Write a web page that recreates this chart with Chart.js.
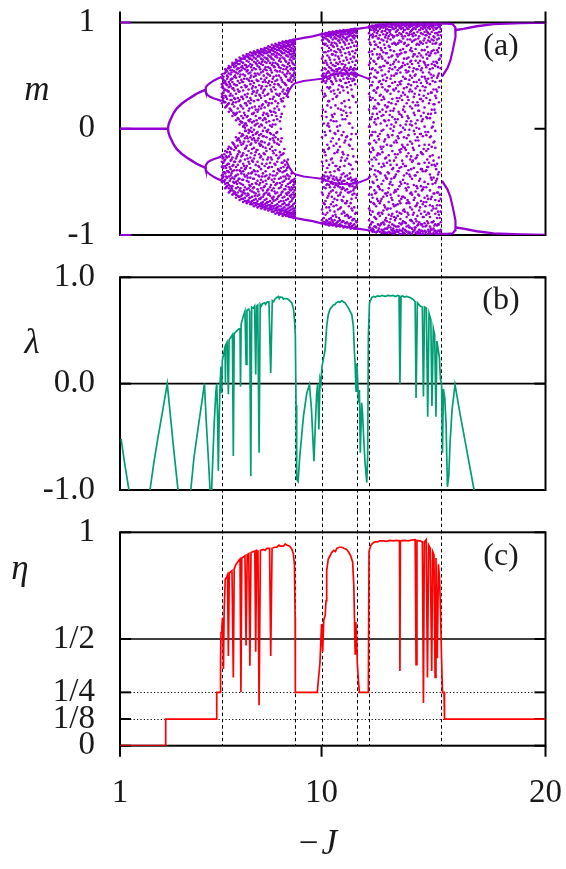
<!DOCTYPE html>
<html><head><meta charset="utf-8">
<script src="https://cdn.jsdelivr.net/npm/chart.js@4.4.1/dist/chart.umd.min.js"></script>
<style>
html,body{margin:0;padding:0;background:#fff;}
#wrap{position:relative;width:566px;height:869px;background:#fff;overflow:hidden;}
canvas{position:absolute;left:0;}
</style></head>
<body><div id="wrap">
<canvas id="ca" width="566" height="256" style="top:0px"></canvas>
<canvas id="cb" width="566" height="255" style="top:256px"></canvas>
<canvas id="cc" width="566" height="358" style="top:511px"></canvas>
</div>
<script>
// ---------------- DATA ----------------
const xTicks = [1, 10, 20];
const xTickLabels = ['1', '10', '20'];
const dashJ = [5.54, 8.83, 10.0, 11.6, 12.1, 15.35];

const mTicks = [-1, 0, 1];
const mTickLabels = ['-1', '0', '1'];
const lamTicks = [-1, 0, 1];
const lamTickLabels = ['-1.0', '0.0', '1.0'];
const etaTicks = [0, 0.125, 0.25, 0.5, 1];
const etaTickLabels = ['0', '1/8', '1/4', '1/2', '1'];
const lamSolidRef = [0];
const etaSolidRef = [0.5];
const etaDottedRef = [0.25, 0.125];

// panel (a): branches of the bifurcation diagram [-J, m]
const branchZero = [[1,0],[3.14,0]];
const branchUpper = [[3.14,0],[3.17,0.04],[3.22,0.07],[3.31,0.11],[3.4,0.15],[3.53,0.19],[3.75,0.235],[3.98,0.27],[4.2,0.30],[4.42,0.33],[4.62,0.35],[4.8,0.365]];
const branchLower = [[3.14,0],[3.17,-0.04],[3.22,-0.07],[3.31,-0.11],[3.4,-0.15],[3.53,-0.19],[3.75,-0.235],[3.98,-0.27],[4.2,-0.30],[4.42,-0.33],[4.62,-0.35],[4.8,-0.365]];
const loopUpA = [[4.8,0.365],[4.83,0.39],[4.9,0.41],[5.02,0.43],[5.2,0.455],[5.35,0.47],[5.54,0.49]];
const loopUpB = [[4.8,0.365],[4.83,0.345],[4.9,0.32],[5.02,0.30],[5.2,0.285],[5.35,0.275],[5.54,0.26]];
const loopDnA = [[4.8,-0.365],[4.83,-0.39],[4.9,-0.41],[5.02,-0.43],[5.2,-0.455],[5.35,-0.47],[5.54,-0.49]];
const loopDnB = [[4.8,-0.365],[4.83,-0.345],[4.9,-0.32],[5.02,-0.30],[5.2,-0.285],[5.35,-0.275],[5.54,-0.26]];
const outerUp = [[8.5,0.825],[8.83,0.84],[9.2,0.855],[9.6,0.87],[10,0.89],[10.5,0.905],[11,0.92],[11.6,0.94],[12.1,0.955]];
const outerDn = [[8.5,-0.825],[8.83,-0.84],[9.2,-0.855],[9.6,-0.87],[10,-0.89],[10.5,-0.905],[11,-0.92],[11.6,-0.94],[12.1,-0.955]];
const innerUp = [[8.42,0.3],[8.55,0.36],[8.7,0.41],[8.83,0.43],[9.2,0.45],[9.6,0.46],[10,0.47],[10.4,0.5],[10.8,0.52],[11.2,0.52],[11.6,0.51],[11.85,0.49],[12.1,0.47]];
const innerDn = [[8.42,-0.3],[8.55,-0.36],[8.7,-0.41],[8.83,-0.43],[9.2,-0.45],[9.6,-0.46],[10,-0.47],[10.4,-0.5],[10.8,-0.52],[11.2,-0.52],[11.6,-0.51],[11.85,-0.49],[12.1,-0.47]];
const loopTop = [[15.33,0.99],[15.6,0.99],[15.85,0.985],[15.97,0.955],[16.0,0.93],[15.96,0.865],[15.86,0.74],[15.75,0.64],[15.62,0.57],[15.5,0.53],[15.38,0.49]];
const loopBot = [[15.33,-0.99],[15.6,-0.99],[15.85,-0.985],[15.97,-0.955],[16.0,-0.93],[15.96,-0.865],[15.86,-0.74],[15.75,-0.64],[15.62,-0.57],[15.5,-0.53],[15.38,-0.49]];
const tailTop = [[16.0,0.93],[16.33,0.94],[16.93,0.965],[17.68,0.985],[18.9,0.995],[20,1.0]];
const tailBot = [[16.0,-0.93],[16.33,-0.94],[16.93,-0.965],[17.68,-0.985],[18.9,-0.995],[20,-1.0]];

// panel (a): chaotic cloud, one column of m values per -J value
const cloudJ = [5.62,5.55,5.78,5.70,5.94,5.86,6.10,6.02,6.26,6.18,6.42,6.34,6.58,6.50,6.74,6.66,6.90,6.82,7.06,6.98,7.22,7.14,7.38,7.30,7.54,7.46,7.70,7.62,7.86,7.78,8.02,7.94,8.18,8.10,8.34,8.26,8.50,8.42,8.66,8.58,8.80,8.74,
10.10,10.02,10.26,10.18,10.42,10.34,10.58,10.50,10.74,10.66,10.90,10.82,11.06,10.98,11.22,11.14,11.38,11.30,11.54,11.46,
12.20,12.12,12.36,12.28,12.52,12.44,12.68,12.60,12.84,12.76,13.00,12.92,13.16,13.08,13.32,13.24,13.48,13.40,13.64,13.56,13.80,13.72,13.96,13.88,14.12,14.04,14.28,14.20,14.44,14.36,14.60,14.52,14.76,14.68,14.92,14.84,15.08,15.00,15.24,15.16,15.32];
const cloudM = [
[0.49,0.46,0.43,0.38,0.34,0.29,0.26,-0.49,-0.45,-0.41,-0.37,-0.32,-0.27],
[0.51,0.48,0.42,0.39,0.33,0.30,0.24,-0.50,-0.47,-0.44,-0.36,-0.31,-0.25],
[0.54,0.50,0.47,0.41,0.36,0.28,0.22,-0.54,-0.51,-0.46,-0.40,-0.34,-0.27,-0.22],
[0.56,0.53,0.45,0.43,0.37,0.31,0.25,0.20,-0.56,-0.52,-0.48,-0.42,-0.35,-0.29,-0.21],
[0.58,0.55,0.51,0.46,0.40,0.33,0.27,0.18,-0.58,-0.54,-0.47,-0.44,-0.38,-0.30,-0.24,-0.18],
[0.59,0.57,0.52,0.44,0.39,0.35,0.24,0.16,-0.60,-0.56,-0.53,-0.45,-0.41,-0.33,-0.26,-0.17],
[0.61,0.58,0.54,0.49,0.42,0.36,0.29,0.21,0.14,-0.61,-0.59,-0.51,-0.47,-0.39,-0.31,-0.20,-0.15],
[0.62,0.60,0.55,0.47,0.44,0.38,0.31,0.23,0.12,-0.62,-0.58,-0.54,-0.46,-0.40,-0.35,-0.27,-0.13],
[0.64,0.61,0.57,0.52,0.45,0.37,0.29,0.19,0.10,-0.63,-0.60,-0.55,-0.49,-0.43,-0.34,-0.24,-0.16,-0.10],
[0.65,0.62,0.59,0.53,0.48,0.41,0.33,0.25,0.14,0.08,-0.65,-0.62,-0.56,-0.50,-0.44,-0.36,-0.28,-0.18,-0.08],
[0.66,0.63,0.58,0.55,0.46,0.39,0.30,0.21,0.12,0.06,-0.66,-0.63,-0.59,-0.52,-0.42,-0.37,-0.26,-0.15,-0.07],
[0.67,0.64,0.61,0.54,0.49,0.43,0.35,0.27,0.16,0.04,-0.67,-0.64,-0.58,-0.51,-0.47,-0.39,-0.31,-0.22,-0.11,-0.04],
[0.68,0.66,0.60,0.56,0.50,0.41,0.32,0.24,0.13,0.05,0.01,-0.68,-0.65,-0.61,-0.55,-0.45,-0.38,-0.29,-0.19,-0.09,-0.02],
[0.69,0.66,0.62,0.57,0.51,0.44,0.36,0.28,0.19,0.10,0.02,-0.69,-0.66,-0.60,-0.53,-0.48,-0.40,-0.33,-0.23,-0.14,-0.06],
[0.70,0.67,0.63,0.59,0.52,0.46,0.37,0.26,0.17,0.08,-0.01,-0.69,-0.67,-0.62,-0.56,-0.50,-0.42,-0.31,-0.21,-0.12,-0.04],
[0.70,0.68,0.64,0.58,0.54,0.47,0.40,0.30,0.22,0.11,0.03,-0.07,-0.70,-0.68,-0.63,-0.57,-0.49,-0.44,-0.35,-0.25,-0.16],
[0.71,0.69,0.65,0.60,0.55,0.45,0.38,0.33,0.20,0.14,0.06,-0.03,-0.71,-0.68,-0.64,-0.59,-0.52,-0.41,-0.30,-0.19,-0.10],
[0.72,0.69,0.66,0.61,0.53,0.48,0.42,0.29,0.24,0.09,-0.02,-0.08,-0.71,-0.69,-0.65,-0.58,-0.54,-0.46,-0.37,-0.27,-0.15],
[0.72,0.70,0.66,0.62,0.56,0.50,0.39,0.31,0.18,0.12,0.04,-0.05,-0.72,-0.70,-0.66,-0.61,-0.51,-0.43,-0.34,-0.22,-0.13],
[0.73,0.71,0.67,0.63,0.57,0.49,0.43,0.35,0.26,0.15,0.07,-0.01,-0.73,-0.70,-0.67,-0.60,-0.55,-0.47,-0.39,-0.28,-0.18,-0.09],
[0.73,0.71,0.68,0.62,0.58,0.51,0.41,0.32,0.21,0.10,0.02,-0.06,-0.73,-0.71,-0.66,-0.62,-0.53,-0.45,-0.36,-0.24,-0.14],
[0.74,0.72,0.68,0.64,0.59,0.52,0.45,0.36,0.27,0.16,0.05,-0.03,-0.74,-0.71,-0.68,-0.63,-0.57,-0.49,-0.40,-0.31,-0.20,-0.11],
[0.745,0.72,0.69,0.65,0.60,0.54,0.44,0.34,0.23,0.13,0.08,-0.02,-0.74,-0.72,-0.69,-0.64,-0.58,-0.50,-0.42,-0.29,-0.17,-0.07],
[0.75,0.73,0.70,0.66,0.61,0.53,0.47,0.38,0.29,0.19,0.04,-0.05,-0.75,-0.73,-0.70,-0.65,-0.56,-0.48,-0.38,-0.26,-0.15,-0.12],
[0.76,0.73,0.71,0.66,0.62,0.55,0.48,0.40,0.25,0.14,0.06,-0.08,-0.75,-0.73,-0.70,-0.66,-0.60,-0.52,-0.44,-0.33,-0.21,-0.02],
[0.76,0.74,0.71,0.67,0.63,0.56,0.46,0.37,0.31,0.20,0.10,0.01,-0.76,-0.74,-0.71,-0.67,-0.61,-0.54,-0.45,-0.35,-0.24,-0.13],
[0.77,0.74,0.72,0.68,0.62,0.57,0.50,0.41,0.28,0.17,0.03,-0.04,-0.76,-0.74,-0.72,-0.68,-0.63,-0.55,-0.43,-0.32,-0.19,-0.10],
[0.775,0.75,0.72,0.69,0.64,0.58,0.51,0.43,0.33,0.22,0.12,-0.01,-0.77,-0.75,-0.72,-0.69,-0.62,-0.57,-0.47,-0.37,-0.27,-0.15],
[0.78,0.76,0.73,0.70,0.65,0.59,0.49,0.39,0.30,0.16,0.08,-0.06,-0.78,-0.75,-0.73,-0.68,-0.64,-0.56,-0.50,-0.40,-0.23,-0.11],
[0.79,0.76,0.74,0.70,0.66,0.60,0.53,0.44,0.35,0.24,0.13,0.02,-0.78,-0.76,-0.73,-0.70,-0.65,-0.58,-0.48,-0.36,-0.29,-0.17],
[0.79,0.77,0.74,0.71,0.67,0.61,0.54,0.46,0.32,0.21,0.09,-0.03,-0.79,-0.77,-0.74,-0.71,-0.66,-0.60,-0.51,-0.42,-0.31,-0.14],
[0.80,0.78,0.75,0.72,0.68,0.62,0.55,0.45,0.37,0.26,0.15,0.04,-0.80,-0.77,-0.75,-0.72,-0.67,-0.61,-0.53,-0.44,-0.34,-0.20,-0.08],
[0.805,0.78,0.76,0.73,0.69,0.63,0.57,0.48,0.39,0.28,0.11,0.00,-0.80,-0.78,-0.76,-0.73,-0.68,-0.62,-0.55,-0.46,-0.37,-0.25,-0.12],
[0.81,0.79,0.76,0.74,0.70,0.64,0.58,0.50,0.41,0.31,0.18,-0.81,-0.79,-0.76,-0.73,-0.69,-0.63,-0.56,-0.47,-0.39,-0.27,-0.15],
[0.815,0.79,0.77,0.74,0.71,0.66,0.59,0.51,0.43,0.33,0.21,-0.81,-0.79,-0.77,-0.74,-0.70,-0.64,-0.57,-0.49,-0.40,-0.30,-0.19],
[0.82,0.80,0.77,0.75,0.71,0.67,0.60,0.53,0.44,0.35,0.26,-0.82,-0.80,-0.77,-0.75,-0.71,-0.65,-0.59,-0.50,-0.41,-0.32,-0.24],
[0.82,0.80,0.78,0.75,0.72,0.68,0.61,0.54,0.46,0.38,0.30,-0.82,-0.80,-0.78,-0.75,-0.72,-0.66,-0.60,-0.52,-0.44,-0.36,-0.29],
[0.825,0.81,0.78,0.76,0.73,0.69,0.63,0.56,0.49,0.41,-0.82,-0.81,-0.78,-0.76,-0.72,-0.67,-0.61,-0.54,-0.47,-0.39],
[0.83,0.81,0.79,0.76,0.73,0.70,0.64,0.57,0.50,0.44,-0.83,-0.81,-0.79,-0.76,-0.73,-0.68,-0.62,-0.55,-0.49,-0.42],
[0.83,0.82,0.79,0.77,0.74,0.70,0.65,0.59,0.52,0.46,-0.83,-0.81,-0.79,-0.77,-0.74,-0.69,-0.63,-0.57,-0.51,-0.45],
[0.835,0.82,0.80,0.77,0.74,0.71,0.66,0.60,0.53,0.48,-0.83,-0.82,-0.80,-0.77,-0.75,-0.70,-0.64,-0.58,-0.52,-0.47],
[0.84,0.82,0.80,0.78,0.75,0.71,0.66,0.61,0.55,0.50,0.46,-0.84,-0.82,-0.80,-0.78,-0.75,-0.71,-0.65,-0.60,-0.53,-0.48],
[0.89,0.86,0.80,0.72,0.62,0.52,0.48,0.45,0.30,0.05,-0.20,-0.44,-0.47,-0.55,-0.70,-0.84,-0.88],
[0.895,0.87,0.83,0.76,0.66,0.55,0.50,0.44,0.36,0.12,-0.08,-0.31,-0.46,-0.50,-0.60,-0.76,-0.86,-0.89],
[0.90,0.88,0.84,0.78,0.69,0.60,0.53,0.47,0.39,0.22,0.03,-0.15,-0.37,-0.45,-0.52,-0.65,-0.79,-0.87,-0.90],
[0.90,0.88,0.85,0.80,0.72,0.64,0.56,0.50,0.43,0.31,0.16,-0.06,-0.25,-0.41,-0.49,-0.56,-0.68,-0.81,-0.88,-0.90],
[0.905,0.89,0.86,0.79,0.74,0.62,0.57,0.51,0.45,0.35,0.20,0.08,-0.12,-0.29,-0.44,-0.51,-0.59,-0.71,-0.84,-0.90],
[0.91,0.89,0.87,0.82,0.76,0.67,0.58,0.53,0.47,0.38,0.26,0.02,-0.18,-0.34,-0.46,-0.53,-0.61,-0.74,-0.85,-0.89,-0.91],
[0.91,0.89,0.86,0.81,0.73,0.65,0.59,0.54,0.49,0.33,0.14,-0.04,-0.23,-0.40,-0.48,-0.55,-0.66,-0.78,-0.86,-0.90],
[0.915,0.90,0.88,0.84,0.78,0.70,0.60,0.55,0.51,0.42,0.28,0.11,-0.09,-0.32,-0.47,-0.52,-0.58,-0.69,-0.82,-0.88,-0.91],
[0.915,0.90,0.87,0.83,0.75,0.68,0.61,0.56,0.50,0.37,0.19,-0.02,-0.20,-0.38,-0.49,-0.54,-0.63,-0.76,-0.87,-0.91],
[0.92,0.90,0.88,0.85,0.80,0.72,0.62,0.56,0.52,0.45,0.30,0.07,-0.14,-0.35,-0.46,-0.53,-0.60,-0.72,-0.83,-0.89,-0.92],
[0.92,0.91,0.89,0.84,0.77,0.69,0.61,0.55,0.50,0.40,0.24,0.13,-0.06,-0.27,-0.43,-0.50,-0.57,-0.67,-0.80,-0.88,-0.91],
[0.925,0.91,0.88,0.86,0.81,0.74,0.63,0.57,0.53,0.46,0.34,0.03,-0.17,-0.36,-0.48,-0.55,-0.62,-0.75,-0.86,-0.90,-0.92],
[0.925,0.91,0.89,0.85,0.79,0.71,0.60,0.55,0.51,0.43,0.21,0.09,-0.11,-0.30,-0.45,-0.52,-0.58,-0.70,-0.82,-0.89,-0.92],
[0.93,0.91,0.89,0.86,0.82,0.75,0.64,0.56,0.52,0.47,0.36,0.17,-0.03,-0.24,-0.42,-0.49,-0.56,-0.64,-0.78,-0.87,-0.93],
[0.93,0.92,0.90,0.87,0.80,0.72,0.62,0.55,0.50,0.44,0.27,0.05,-0.15,-0.33,-0.47,-0.53,-0.60,-0.73,-0.84,-0.90,-0.92],
[0.93,0.92,0.89,0.86,0.83,0.76,0.65,0.57,0.53,0.48,0.39,0.12,-0.07,-0.28,-0.44,-0.51,-0.57,-0.68,-0.81,-0.88,-0.93],
[0.935,0.92,0.90,0.87,0.81,0.73,0.63,0.56,0.51,0.45,0.31,0.01,-0.19,-0.38,-0.48,-0.54,-0.62,-0.77,-0.86,-0.91,-0.93],
[0.935,0.92,0.90,0.88,0.84,0.77,0.66,0.58,0.52,0.47,0.41,0.15,-0.10,-0.34,-0.46,-0.52,-0.59,-0.70,-0.83,-0.89,-0.94],
[0.94,0.925,0.91,0.87,0.82,0.74,0.64,0.56,0.52,0.49,0.25,-0.05,-0.31,-0.47,-0.50,-0.55,-0.65,-0.79,-0.87,-0.92,-0.94],
[0.94,0.93,0.91,0.88,0.85,0.78,0.67,0.57,0.53,0.50,0.46,-0.48,-0.51,-0.56,-0.61,-0.74,-0.85,-0.90,-0.94],
[0.96,0.93,0.88,0.79,0.66,0.52,0.41,0.27,0.09,-0.06,-0.22,-0.38,-0.55,-0.69,-0.81,-0.90,-0.95],
[0.965,0.95,0.90,0.84,0.72,0.60,0.47,0.33,0.18,0.02,-0.14,-0.31,-0.46,-0.62,-0.75,-0.86,-0.93,-0.96],
[0.97,0.94,0.91,0.82,0.75,0.63,0.49,0.36,0.21,0.06,-0.11,-0.27,-0.43,-0.58,-0.71,-0.83,-0.92,-0.97],
[0.97,0.95,0.89,0.86,0.70,0.57,0.44,0.29,0.14,-0.03,-0.18,-0.35,-0.50,-0.65,-0.78,-0.88,-0.94,-0.97],
[0.975,0.96,0.92,0.85,0.77,0.66,0.53,0.39,0.24,0.10,-0.07,-0.23,-0.40,-0.54,-0.68,-0.80,-0.90,-0.96],
[0.975,0.95,0.93,0.87,0.79,0.61,0.48,0.34,0.19,0.04,-0.13,-0.29,-0.45,-0.60,-0.73,-0.85,-0.93,-0.975],
[0.98,0.96,0.91,0.84,0.74,0.68,0.55,0.42,0.27,0.12,-0.02,-0.19,-0.36,-0.52,-0.66,-0.79,-0.89,-0.95,-0.98],
[0.98,0.97,0.94,0.88,0.81,0.70,0.58,0.45,0.31,0.16,-0.05,-0.24,-0.41,-0.57,-0.70,-0.82,-0.91,-0.97],
[0.98,0.96,0.92,0.86,0.76,0.64,0.51,0.37,0.22,0.07,-0.10,-0.28,-0.44,-0.61,-0.74,-0.86,-0.94,-0.98],
[0.98,0.97,0.95,0.89,0.83,0.72,0.59,0.46,0.30,0.13,-0.01,-0.17,-0.33,-0.49,-0.64,-0.77,-0.88,-0.95,-0.98],
[0.985,0.96,0.93,0.87,0.78,0.67,0.54,0.40,0.25,0.08,-0.08,-0.25,-0.42,-0.56,-0.69,-0.81,-0.91,-0.97],
[0.985,0.97,0.94,0.90,0.82,0.71,0.62,0.48,0.35,0.20,0.03,-0.15,-0.32,-0.47,-0.63,-0.76,-0.87,-0.94,-0.98],
[0.985,0.97,0.95,0.88,0.80,0.69,0.56,0.43,0.28,0.11,-0.06,-0.21,-0.38,-0.53,-0.67,-0.80,-0.90,-0.96,-0.985],
[0.985,0.96,0.93,0.89,0.84,0.74,0.60,0.47,0.33,0.17,0.00,-0.16,-0.34,-0.50,-0.62,-0.75,-0.85,-0.93,-0.98],
[0.985,0.97,0.95,0.91,0.79,0.65,0.52,0.38,0.23,0.06,-0.11,-0.27,-0.43,-0.59,-0.72,-0.84,-0.92,-0.97],
[0.99,0.98,0.94,0.87,0.81,0.73,0.63,0.50,0.36,0.19,0.02,-0.13,-0.30,-0.46,-0.60,-0.73,-0.83,-0.91,-0.96,-0.985],
[0.99,0.97,0.95,0.90,0.83,0.70,0.57,0.44,0.29,0.14,-0.04,-0.20,-0.37,-0.54,-0.68,-0.79,-0.89,-0.95,-0.99],
[0.99,0.97,0.93,0.88,0.80,0.68,0.55,0.41,0.26,0.09,-0.07,-0.24,-0.40,-0.57,-0.71,-0.82,-0.92,-0.97],
[0.99,0.98,0.95,0.91,0.85,0.75,0.62,0.49,0.34,0.18,0.01,-0.17,-0.33,-0.48,-0.64,-0.77,-0.87,-0.94,-0.98],
[0.99,0.97,0.94,0.89,0.82,0.71,0.58,0.45,0.31,0.13,-0.03,-0.19,-0.36,-0.52,-0.66,-0.80,-0.90,-0.96,-0.99],
[0.99,0.98,0.95,0.90,0.78,0.66,0.53,0.39,0.24,0.07,-0.09,-0.26,-0.42,-0.58,-0.70,-0.83,-0.92,-0.97],
[0.99,0.97,0.93,0.87,0.81,0.72,0.60,0.47,0.32,0.16,-0.01,-0.18,-0.35,-0.51,-0.65,-0.78,-0.88,-0.95,-0.99],
[0.99,0.98,0.96,0.91,0.84,0.74,0.63,0.50,0.37,0.21,0.04,-0.12,-0.29,-0.45,-0.61,-0.74,-0.86,-0.93,-0.98],
[0.99,0.97,0.94,0.88,0.79,0.67,0.54,0.42,0.27,0.10,-0.06,-0.23,-0.39,-0.55,-0.69,-0.81,-0.91,-0.97,-0.99],
[0.99,0.98,0.95,0.90,0.83,0.70,0.57,0.44,0.30,0.15,-0.02,-0.20,-0.37,-0.53,-0.67,-0.79,-0.89,-0.96],
[0.99,0.97,0.93,0.89,0.82,0.73,0.61,0.48,0.35,0.19,0.03,-0.14,-0.31,-0.47,-0.62,-0.76,-0.87,-0.94,-0.99],
[0.99,0.98,0.96,0.91,0.80,0.68,0.56,0.40,0.25,0.08,-0.08,-0.25,-0.41,-0.56,-0.70,-0.82,-0.91,-0.97,-0.99],
[0.99,0.97,0.94,0.88,0.84,0.75,0.64,0.51,0.38,0.22,0.05,-0.11,-0.28,-0.44,-0.59,-0.73,-0.85,-0.93,-0.98],
[0.99,0.98,0.95,0.90,0.81,0.69,0.55,0.43,0.28,0.12,-0.05,-0.22,-0.38,-0.54,-0.68,-0.80,-0.90,-0.96,-0.99],
[0.99,0.97,0.93,0.87,0.79,0.71,0.59,0.46,0.32,0.17,0.00,-0.16,-0.33,-0.49,-0.63,-0.77,-0.88,-0.95,-0.99],
[0.99,0.98,0.96,0.91,0.85,0.74,0.62,0.49,0.36,0.20,0.02,-0.15,-0.32,-0.50,-0.65,-0.78,-0.89,-0.96],
[0.99,0.97,0.94,0.89,0.80,0.67,0.53,0.40,0.26,0.09,-0.07,-0.24,-0.40,-0.57,-0.71,-0.83,-0.92,-0.97,-0.99],
[0.99,0.98,0.95,0.90,0.83,0.72,0.60,0.47,0.33,0.14,-0.03,-0.19,-0.36,-0.52,-0.66,-0.79,-0.89,-0.95,-0.99],
[0.99,0.97,0.93,0.88,0.81,0.70,0.58,0.45,0.29,0.11,-0.06,-0.21,-0.39,-0.55,-0.69,-0.81,-0.91,-0.97],
[0.99,0.98,0.96,0.91,0.84,0.73,0.61,0.48,0.34,0.18,0.01,-0.17,-0.34,-0.48,-0.64,-0.77,-0.88,-0.95,-0.99],
[0.99,0.97,0.94,0.89,0.82,0.69,0.56,0.42,0.27,0.10,-0.08,-0.26,-0.43,-0.58,-0.72,-0.83,-0.92,-0.97,-0.99],
[0.99,0.98,0.95,0.90,0.80,0.71,0.59,0.44,0.31,0.15,-0.02,-0.18,-0.35,-0.51,-0.67,-0.80,-0.90,-0.96,-0.99],
[0.99,0.97,0.93,0.87,0.83,0.74,0.63,0.50,0.37,0.23,0.06,-0.13,-0.30,-0.46,-0.61,-0.75,-0.87,-0.94,-0.98],
[0.99,0.98,0.96,0.91,0.85,0.76,0.65,0.52,0.39,0.25,-0.27,-0.41,-0.55,-0.68,-0.81,-0.90,-0.96,-0.99],
[0.99,0.98,0.95,0.90,0.84,0.74,0.62,0.48,0.35,-0.33,-0.47,-0.60,-0.72,-0.84,-0.91,-0.97,-0.99],
[0.99,0.98,0.94,0.88,0.80,0.69,0.57,-0.55,-0.66,-0.78,-0.88,-0.95,-0.99]
];
// extra, sparser columns of the cloud between the ones above
const cloudJ2 = [5.585,5.66,5.74,5.82,5.90,5.98,6.06,6.14,6.22,6.30,6.38,6.46,6.54,6.62,6.70,6.78,6.86,6.94,7.02,7.10,7.18,7.26,7.34,7.42,7.50,7.58,7.66,7.74,7.82,7.90,7.98,8.06,8.14,8.22,8.30,8.38,8.46,8.54,8.62,8.70,8.77,
10.06,10.14,10.22,10.30,10.38,10.46,10.54,10.62,10.70,10.78,10.86,10.94,11.02,11.10,11.18,11.26,11.34,11.42,11.50,11.57,
12.16,12.24,12.32,12.40,12.48,12.56,12.64,12.72,12.80,12.88,12.96,13.04,13.12,13.20,13.28,13.36,13.44,13.52,13.60,13.68,13.76,13.84,13.92,14.00,14.08,14.16,14.24,14.32,14.40,14.48,14.56,14.64,14.72,14.80,14.88,14.96,15.04,15.12,15.20,15.28];
const cloudM2 = [
[0.47,0.31,0.40,-0.28,-0.46,-0.35,0.27,-0.43],[0.36,0.52,0.25,-0.41,-0.24,-0.5,0.44,-0.30],[0.30,0.55,0.42,-0.26,-0.55,-0.37,0.21,-0.45],
[0.49,0.23,0.57,-0.33,-0.19,-0.51,0.35,-0.40],[0.19,0.42,0.58,-0.22,-0.49,-0.59,0.31,-0.36],[0.53,0.27,0.17,-0.56,-0.29,-0.42,0.47,-0.19],
[0.38,0.60,0.15,-0.34,-0.61,-0.14,0.25,-0.50],[0.28,0.50,0.62,-0.45,-0.17,-0.60,0.13,-0.31],[0.41,0.15,0.63,-0.26,-0.52,-0.11,0.56,-0.39],
[0.09,0.35,0.57,-0.47,-0.64,-0.21,0.26,-0.09],[0.51,0.22,0.65,-0.13,-0.40,-0.56,0.07,-0.30],[0.30,0.06,0.59,-0.25,-0.05,-0.62,0.44,-0.48],
[0.15,0.47,0.67,-0.35,-0.12,-0.58,0.03,-0.43],[0.39,0.05,0.60,-0.18,-0.68,-0.37,0.24,-0.02],[0.12,0.55,0.68,-0.46,-0.09,-0.28,0.33,-0.61],
[0.45,0.19,0.66,-0.02,-0.53,-0.33,0.07,-0.65],[0.27,0.58,0.01,-0.42,-0.70,-0.14,0.50,-0.23],[0.14,0.40,0.69,-0.31,-0.06,-0.56,0.35,-0.47],
[0.52,0.21,0.71,-0.11,-0.63,-0.40,0.03,-0.25],[0.34,0.61,0.08,-0.52,-0.20,-0.70,0.46,-0.04],[0.18,0.45,0.69,-0.35,-0.09,-0.59,0.27,-0.44],
[0.56,0.31,0.72,-0.16,-0.66,-0.27,0.10,-0.51],[0.40,0.03,0.63,-0.45,-0.12,-0.71,0.22,-0.33],[0.15,0.50,0.72,-0.23,-0.55,-0.07,0.36,-0.62],
[0.58,0.26,0.09,-0.40,-0.73,-0.18,0.44,-0.49],[0.32,0.66,0.14,-0.58,-0.29,-0.03,0.52,-0.69],[0.07,0.45,0.73,-0.36,-0.14,-0.61,0.24,-0.46],
[0.55,0.37,0.16,-0.05,-0.53,-0.74,0.67,-0.27],[0.28,0.62,0.04,-0.44,-0.21,-0.66,0.47,-0.09],[0.42,0.19,0.75,-0.33,-0.59,-0.13,0.58,-0.47],
[0.12,0.50,0.69,-0.25,-0.75,-0.52,0.33,-0.04],[0.60,0.24,0.77,-0.38,-0.10,-0.64,0.42,-0.28],[0.33,0.66,0.07,-0.51,-0.22,-0.77,0.54,-0.40],
[0.46,0.14,0.72,-0.32,-0.60,-0.09,0.26,-0.53],[0.56,0.37,0.78,-0.45,-0.23,-0.68,0.29,-0.36],[0.42,0.64,0.33,-0.57,-0.34,-0.78,0.50,-0.45],
[0.52,0.69,0.36,-0.43,-0.62,-0.79,0.58,-0.37],[0.45,0.62,0.79,-0.55,-0.71,-0.47,0.72,-0.60],[0.56,0.74,0.48,-0.64,-0.50,-0.80,0.67,-0.58],
[0.50,0.68,0.80,-0.57,-0.73,-0.49,0.62,-0.66],[0.57,0.73,0.52,-0.62,-0.79,-0.55,0.69,-0.50],
[0.84,0.50,0.18,-0.49,-0.80,-0.35,0.68,-0.62,0.46],[0.79,0.57,-0.03,-0.45,-0.88,0.33,-0.71,0.49,-0.22],[0.87,0.45,0.11,-0.53,-0.74,0.62,-0.30,0.52,-0.86],
[0.73,0.54,-0.19,-0.47,-0.89,0.26,0.83,-0.63,0.05],[0.88,0.48,0.39,-0.55,-0.77,-0.02,0.65,-0.41,-0.88],[0.81,0.55,-0.28,0.13,-0.50,-0.86,0.70,-0.64,0.44],
[0.90,0.52,0.07,-0.45,-0.73,0.36,-0.16,0.77,-0.90],[0.85,0.59,-0.35,-0.53,0.22,-0.81,0.47,-0.05,0.69],[0.91,0.54,0.31,-0.48,-0.67,-0.22,0.78,-0.88,0.02],
[0.83,0.57,-0.10,-0.51,0.41,-0.84,0.66,-0.39,-0.91],[0.90,0.53,0.18,-0.46,-0.74,-0.30,0.72,0.45,-0.60],[0.87,0.50,-0.22,-0.55,0.09,-0.87,0.61,-0.68,0.39],
[0.92,0.58,0.26,-0.49,-0.79,-0.13,0.81,-0.35,-0.92],[0.84,0.54,-0.08,-0.52,0.43,-0.70,0.67,-0.89,0.15],[0.91,0.51,0.34,-0.47,-0.82,-0.25,0.76,-0.60,0.47],
[0.88,0.56,-0.16,-0.54,0.20,-0.90,0.70,-0.42,0.05],[0.93,0.53,0.37,-0.49,-0.75,-0.05,0.83,-0.66,-0.92],[0.86,0.55,-0.26,-0.51,0.30,-0.85,0.68,0.47,-0.58],
[0.92,0.52,0.42,-0.49,-0.80,0.71,-0.55,-0.93,0.60],[0.90,0.51,0.78,-0.50,-0.88,-0.62,0.64,-0.53],
[0.95,0.62,-0.14,0.30,-0.77,0.81,-0.45,0.02,-0.93,0.48],[0.97,0.41,-0.29,0.73,-0.62,0.11,-0.88,0.56,-0.06,-0.96],[0.93,0.19,-0.51,0.87,-0.20,0.64,-0.95,0.36,-0.70,0.95],
[0.97,0.55,-0.03,-0.84,0.27,-0.39,0.79,-0.61,0.09,-0.92],[0.90,0.38,-0.66,0.14,-0.97,0.70,-0.25,0.53,-0.48,0.96],[0.98,0.67,-0.10,-0.79,0.44,-0.55,0.23,-0.33,0.85,-0.94],
[0.95,0.32,-0.42,0.76,-0.90,0.05,-0.68,0.58,-0.17,0.97],[0.92,0.50,-0.22,-0.96,0.66,-0.58,0.18,-0.80,0.39,0.98],[0.97,0.79,-0.35,0.08,-0.72,0.59,-0.12,-0.90,0.28,-0.97],
[0.94,0.45,-0.61,0.71,-0.27,0.16,-0.84,0.88,-0.46,0.98],[0.98,0.36,-0.06,-0.75,0.62,-0.41,0.85,-0.93,0.21,-0.60],[0.91,0.57,-0.30,0.13,-0.88,0.77,-0.52,0.40,-0.98,0.96],
[0.98,0.24,-0.47,0.68,-0.16,-0.82,0.50,-0.65,0.04,-0.95],[0.94,0.61,-0.02,-0.71,0.37,-0.37,0.86,-0.94,0.17,0.99],[0.97,0.44,-0.58,0.80,-0.24,0.09,-0.86,0.58,-0.45,-0.98],
[0.92,0.70,-0.13,0.29,-0.78,0.52,-0.34,-0.95,0.88,0.99],[0.98,0.35,-0.40,0.63,-0.92,0.16,-0.63,0.81,-0.09,-0.97],[0.95,0.53,-0.22,-0.85,0.42,-0.50,0.74,-0.70,0.03,0.99],
[0.98,0.27,-0.64,0.87,-0.30,0.59,-0.96,0.11,-0.15,-0.89],[0.93,0.66,-0.08,0.38,-0.76,0.80,-0.44,-0.98,0.21,0.99],[0.97,0.47,-0.35,0.04,-0.89,0.72,-0.56,0.55,-0.20,-0.96],
[0.99,0.30,-0.52,0.84,-0.15,-0.79,0.61,-0.67,0.12,0.94],[0.96,0.58,-0.01,-0.70,0.35,-0.43,0.89,-0.93,0.46,-0.98],[0.98,0.41,-0.60,0.76,-0.26,0.07,-0.86,0.64,-0.38,0.92],
[0.94,0.68,-0.18,0.25,-0.81,0.54,-0.30,-0.97,0.87,0.99],[0.99,0.33,-0.44,0.70,-0.93,0.13,-0.65,0.50,-0.05,-0.95],[0.96,0.56,-0.27,-0.87,0.44,-0.54,0.79,-0.72,0.01,0.98],
[0.98,0.22,-0.62,0.85,-0.33,0.62,-0.97,0.17,-0.11,-0.90],[0.93,0.64,-0.05,0.36,-0.74,0.82,-0.47,-0.98,0.28,0.99],[0.99,0.49,-0.38,0.07,-0.90,0.74,-0.58,0.57,-0.23,-0.96],
[0.97,0.31,-0.55,0.83,-0.19,-0.83,0.63,-0.69,0.15,0.95],[0.95,0.60,-0.03,-0.73,0.39,-0.40,0.88,-0.92,0.47,-0.98],[0.99,0.43,-0.63,0.77,-0.29,0.10,-0.87,0.66,-0.36,0.91],
[0.96,0.69,-0.15,0.24,-0.80,0.53,-0.32,-0.97,0.86,0.99],[0.98,0.34,-0.46,0.71,-0.94,0.14,-0.66,0.51,-0.07,-0.95],[0.95,0.57,-0.25,-0.88,0.45,-0.52,0.80,-0.73,0.02,0.98],
[0.99,0.23,-0.61,0.86,-0.34,0.60,-0.96,0.18,-0.12,-0.91],[0.94,0.63,-0.38,0.37,-0.75,0.81,-0.49,-0.98,0.29,0.99],[0.98,0.50,-0.43,0.72,-0.90,0.88,-0.60,0.58,-0.78,-0.96],
[0.96,0.79,-0.62,0.66,-0.84,0.91,-0.72,0.45,-0.97,0.99]
];

// panel (b): Lyapunov exponent [-J, lambda]
const lambdaSeries = [[1.05,-0.52],[1.2,-0.74],[1.4,-1.0],[1.6,-1.35],[1.9,-2.2],[2.2,-1.3],[2.34,-1.0],[2.5,-0.76],[2.7,-0.5],[2.9,-0.26],[3.11,0.0],[3.25,-0.3],[3.4,-0.62],[3.58,-0.98],[3.7,-1.3],[3.9,-2.2],[4.1,-1.15],[4.16,-1.0],[4.3,-0.7],[4.5,-0.4],[4.65,-0.18],[4.77,0.0],[4.85,-0.35],[4.95,-0.72],[5.02,-1.0],[5.06,-1.2],[5.1,-0.95],[5.2,-0.4],[5.28,-0.08],[5.32,0.0],[5.36,-0.35],[5.39,-0.82],[5.43,-0.3],[5.47,0.0],[5.51,0.16],[5.54,-0.09],[5.57,0.22],[5.61,0.26],[5.65,0.3],[5.69,0.35],[5.7,0.0],[5.72,0.36],[5.78,0.39],[5.84,-0.1],[5.87,0.41],[5.93,0.43],[6.02,0.46],[6.06,-0.68],[6.1,0.47],[6.18,0.49],[6.28,0.51],[6.36,0.52],[6.38,-0.03],[6.41,0.56],[6.5,0.63],[6.58,0.68],[6.63,0.18],[6.67,0.69],[6.75,0.7],[6.79,0.68],[6.84,-0.87],[6.88,0.72],[6.95,0.71],[7.01,0.73],[7.06,0.085],[7.1,0.73],[7.15,0.74],[7.21,-0.65],[7.26,0.745],[7.31,0.73],[7.35,0.75],[7.45,0.76],[7.5,0.745],[7.55,0.765],[7.65,0.77],[7.73,0.1],[7.8,0.78],[7.86,0.77],[7.9,0.79],[8.0,0.81],[8.07,0.82],[8.11,0.8],[8.15,0.815],[8.25,0.81],[8.3,0.795],[8.35,0.8],[8.45,0.8],[8.55,0.785],[8.67,0.76],[8.75,0.7],[8.8,0.58],[8.83,0.45],[8.86,-0.2],[8.89,-0.9],[8.95,-0.92],[9.03,-0.68],[9.19,-0.31],[9.34,-0.09],[9.46,-0.01],[9.55,-0.24],[9.66,-0.73],[9.72,-0.4],[9.78,-0.1],[9.83,0.0],[9.88,-0.43],[9.93,0.04],[9.97,0.0],[10.02,0.16],[10.08,0.23],[10.16,0.32],[10.23,0.54],[10.3,0.65],[10.38,0.7],[10.45,0.72],[10.53,0.74],[10.6,0.745],[10.65,0.76],[10.75,0.77],[10.82,0.765],[10.9,0.78],[10.97,0.77],[11.05,0.76],[11.2,0.71],[11.35,0.65],[11.42,0.54],[11.47,0.29],[11.5,0.17],[11.54,-0.07],[11.57,0.19],[11.61,0.04],[11.65,-0.18],[11.69,-0.06],[11.73,-0.65],[11.79,-0.18],[11.83,-0.28],[11.88,-0.5],[11.94,-0.74],[12.02,-0.93],[12.06,-0.68],[12.09,0.44],[12.14,0.76],[12.24,0.81],[12.32,0.82],[12.4,0.815],[12.5,0.825],[12.6,0.82],[12.7,0.83],[12.76,0.825],[12.85,0.82],[12.95,0.83],[13.1,0.825],[13.2,0.83],[13.3,0.82],[13.4,0.83],[13.46,0.825],[13.5,0.0],[13.55,0.82],[13.62,0.825],[13.7,0.815],[13.8,0.82],[13.88,0.815],[13.95,0.81],[14.02,0.8],[14.1,0.79],[14.18,0.77],[14.22,-0.135],[14.28,0.76],[14.34,0.745],[14.4,0.73],[14.5,0.72],[14.55,-0.12],[14.6,0.72],[14.68,0.71],[14.74,-0.31],[14.8,0.66],[14.88,0.6],[14.93,-0.21],[14.99,0.52],[15.05,0.46],[15.11,-0.31],[15.15,0.4],[15.22,0.3],[15.26,0.25],[15.31,0.04],[15.36,0.0],[15.4,-0.65],[15.44,-0.05],[15.5,-0.13],[15.56,-0.38],[15.62,-0.97],[15.68,-0.87],[15.74,-0.55],[15.83,-0.24],[15.96,-0.01],[16.18,-0.28],[16.48,-0.62],[16.81,-1.0],[17.0,-1.2]];

// panel (c): eta [-J, eta]
const etaSeries = [[1,0],[3.04,0],[3.04,0.125],[5.32,0.125],[5.32,0.25],[5.47,0.25],[5.49,0.4],[5.51,0.53],[5.55,0.56],[5.58,0.6],[5.62,0.36],[5.65,0.63],[5.7,0.78],[5.76,0.79],[5.8,0.8],[5.84,0.42],[5.88,0.81],[5.95,0.815],[6.0,0.82],[6.06,0.32],[6.1,0.83],[6.18,0.85],[6.25,0.86],[6.32,0.87],[6.36,0.875],[6.4,0.25],[6.44,0.88],[6.52,0.885],[6.58,0.89],[6.63,0.47],[6.68,0.895],[6.75,0.9],[6.8,0.375],[6.85,0.905],[6.95,0.91],[7.02,0.912],[7.06,0.44],[7.1,0.915],[7.16,0.912],[7.21,0.19],[7.27,0.915],[7.4,0.92],[7.48,0.915],[7.55,0.925],[7.68,0.925],[7.73,0.42],[7.79,0.925],[7.9,0.93],[8.0,0.93],[8.1,0.94],[8.15,0.935],[8.3,0.935],[8.38,0.945],[8.44,0.94],[8.58,0.935],[8.68,0.92],[8.74,0.9],[8.79,0.85],[8.82,0.6],[8.83,0.25],[9.81,0.25],[9.86,0.31],[9.93,0.39],[10.0,0.57],[10.05,0.44],[10.1,0.59],[10.16,0.61],[10.2,0.68],[10.23,0.82],[10.3,0.875],[10.38,0.89],[10.45,0.905],[10.55,0.915],[10.62,0.91],[10.68,0.925],[10.8,0.93],[10.9,0.93],[11.0,0.925],[11.12,0.92],[11.22,0.905],[11.3,0.89],[11.39,0.86],[11.44,0.75],[11.47,0.6],[11.5,0.43],[11.53,0.58],[11.57,0.49],[11.6,0.38],[11.65,0.3],[11.69,0.25],[12.09,0.25],[12.12,0.91],[12.2,0.94],[12.3,0.95],[12.39,0.956],[12.5,0.955],[12.6,0.96],[12.76,0.96],[12.9,0.958],[13.05,0.962],[13.2,0.96],[13.35,0.962],[13.48,0.96],[13.5,0.35],[13.52,0.96],[13.7,0.962],[13.88,0.96],[14.0,0.963],[14.18,0.965],[14.22,0.38],[14.26,0.962],[14.4,0.96],[14.5,0.955],[14.55,0.2],[14.59,0.955],[14.67,0.965],[14.73,0.32],[14.78,0.94],[14.85,0.925],[14.92,0.35],[14.96,0.91],[15.02,0.895],[15.07,0.32],[15.11,0.88],[15.17,0.41],[15.22,0.85],[15.27,0.78],[15.31,0.64],[15.36,0.4],[15.4,0.25],[15.47,0.25],[15.49,0.125],[20,0.125]];

// ---------------- RENDERING ----------------
const PURPLE = '#9400D3', GREEN = '#009E73', RED = '#FF0000';
const FONT = '"Liberation Serif", "Times New Roman", serif';
const TXT = '#1a1a1a';
const CLEAR = 'rgba(0,0,0,0)';

const cloudPts = [];
cloudJ.forEach((j, i) => cloudM[i].forEach(m => cloudPts.push([j, m])));
cloudJ2.forEach((j, i) => cloudM2[i].forEach(m => cloudPts.push([j, m])));

function decor(o) {
  return {
    id: 'decor',
    beforeDatasetsDraw(chart) {
      const {ctx, chartArea: a} = chart;
      const xs = chart.scales.x, ys = chart.scales.y;
      ctx.save();
      ctx.strokeStyle = '#000'; ctx.lineWidth = 1; ctx.setLineDash([3.5, 2.8]);
      const y0 = o.dashFromArea ? a.top : 0;
      const y1 = o.dashToArea ? a.bottom : chart.height;
      dashJ.forEach(j => {
        const px = Math.round(xs.getPixelForValue(j)) + 0.5;
        ctx.beginPath(); ctx.moveTo(px, y0); ctx.lineTo(px, y1); ctx.stroke();
      });
      ctx.setLineDash([1.2, 2.2]); ctx.lineWidth = 1;
      (o.dotted || []).forEach(v => {
        const py = Math.round(ys.getPixelForValue(v)) + 0.5;
        ctx.beginPath(); ctx.moveTo(a.left, py); ctx.lineTo(a.right, py); ctx.stroke();
      });
      ctx.setLineDash([]);
      ctx.lineWidth = 1.7;
      (o.solid || []).forEach(v => {
        const py = ys.getPixelForValue(v);
        ctx.beginPath(); ctx.moveTo(a.left, py); ctx.lineTo(a.right, py); ctx.stroke();
      });
      ctx.lineWidth = 2;
      ctx.strokeRect(a.left, a.top, a.right - a.left, a.bottom - a.top);
      o.yTicks.forEach(v => {
        const py = ys.getPixelForValue(v);
        ctx.strokeStyle = o.leftTickColor || '#000';
        ctx.beginPath(); ctx.moveTo(a.left, py); ctx.lineTo(a.left + 11, py); ctx.stroke();
        ctx.strokeStyle = '#000';
        ctx.beginPath(); ctx.moveTo(a.right - 11, py); ctx.lineTo(a.right, py); ctx.stroke();
      });
      if (o.xTop) xTicks.forEach(v => {
        const px = xs.getPixelForValue(v);
        ctx.beginPath(); ctx.moveTo(px, a.top); ctx.lineTo(px, a.top - 11); ctx.stroke();
      });
      if (o.xBottom) xTicks.forEach(v => {
        const px = xs.getPixelForValue(v);
        ctx.beginPath(); ctx.moveTo(px, a.bottom); ctx.lineTo(px, a.bottom + 11); ctx.stroke();
      });
      ctx.restore();
    },
    afterDraw(chart) {
      const ctx = chart.ctx;
      ctx.save();
      ctx.fillStyle = TXT;
      ctx.textAlign = 'center'; ctx.textBaseline = 'middle';
      ctx.font = '32px ' + FONT;
      ctx.fillText(o.panel, o.panelPos[0], o.panelPos[1]);
      ctx.font = 'italic 35px ' + FONT;
      ctx.fillText(o.title, o.titlePos[0], o.titlePos[1]);
      if (o.xTitle) {
        const [cx, cy] = o.xTitlePos;
        ctx.font = '35px ' + FONT;
        const w1 = ctx.measureText('\u2212').width;
        ctx.font = 'italic 35px ' + FONT;
        const w2 = ctx.measureText('J').width;
        const sx = cx - (w1 + w2 + 3) / 2;
        ctx.textAlign = 'left';
        ctx.font = '35px ' + FONT;
        ctx.fillText('\u2212', sx, cy);
        ctx.font = 'italic 35px ' + FONT;
        ctx.fillText('J', sx + w1 + 3, cy);
      }
      ctx.restore();
    }
  };
}

// labels are pushed away from the frame with invisible tick marks (ticks.padding would also pad the plot)
function yAxis(min, max, ticks, labels) {
  return {
    type: 'linear', min, max,
    afterBuildTicks: s => { s.ticks = ticks.map(v => ({value: v})); },
    afterFit: s => { s.width = 120; },
    ticks: { autoSkip: false, padding: 0, color: TXT, font: {family: FONT, size: 33},
      callback: (v, i) => labels[i] },
    grid: { display: true, drawOnChartArea: false, drawTicks: true, tickLength: 25, color: CLEAR, tickColor: CLEAR },
    border: { display: false }
  };
}
function xAxisHidden() { return { type: 'linear', min: 1, max: 20, display: false }; }

function commonOpts(pad, scales) {
  return {
    responsive: false, animation: false, devicePixelRatio: 1, events: [],
    layout: { autoPadding: false, padding: pad },
    plugins: { legend: { display: false }, tooltip: { enabled: false } },
    elements: { point: { radius: 0 }, line: { tension: 0 } },
    scales
  };
}
function lineDs(data, color, width) {
  return { type: 'scatter', data, showLine: true, borderColor: color, borderWidth: width, pointRadius: 0, fill: false };
}
// keep each plot frame at its intended place on the page
function pin(chart, t) {
  for (let k = 0; k < 4; k++) {
    const a = chart.chartArea, p = chart.config.options.layout.padding;
    const dt = t.top - a.top, db = a.bottom - t.bottom, dr = a.right - t.right;
    if (Math.abs(dt) + Math.abs(db) + Math.abs(dr) < 0.2) break;
    p.top = Math.max(0, p.top + dt); p.bottom = Math.max(0, p.bottom + db); p.right = Math.max(0, p.right + dr);
    chart.update();
  }
}

// ---- Panel (a)
const chA = new Chart(document.getElementById('ca'), {
  type: 'scatter',
  data: { datasets: [
    { data: cloudPts, backgroundColor: PURPLE, borderWidth: 0, pointRadius: 1.3, pointStyle: 'circle', showLine: false },
    lineDs(branchZero, PURPLE, 2.4), lineDs(branchUpper, PURPLE, 2.4), lineDs(branchLower, PURPLE, 2.4),
    lineDs(loopUpA, PURPLE, 2.2), lineDs(loopUpB, PURPLE, 2.2), lineDs(loopDnA, PURPLE, 2.2), lineDs(loopDnB, PURPLE, 2.2),
    lineDs(outerUp, PURPLE, 2.2), lineDs(outerDn, PURPLE, 2.2), lineDs(innerUp, PURPLE, 2.0), lineDs(innerDn, PURPLE, 2.0),
    lineDs(loopTop, PURPLE, 2.2), lineDs(loopBot, PURPLE, 2.2), lineDs(tailTop, PURPLE, 2.4), lineDs(tailBot, PURPLE, 2.4)
  ]},
  options: commonOpts({ left: 0, right: 20.5, top: 22.5, bottom: 21 }, { x: xAxisHidden(), y: yAxis(-1, 1, mTicks, mTickLabels) }),
  plugins: [decor({ yTicks: mTicks, leftTickColor: PURPLE, dashFromArea: true, dashToArea: false, xTop: true,
    panel: '(a)', panelPos: [501, 47], title: 'm', titlePos: [37, 91] })]
});
pin(chA, { right: 545.5, top: 22.5, bottom: 235 });

// ---- Panel (b)
const chB = new Chart(document.getElementById('cb'), {
  type: 'scatter',
  data: { datasets: [ lineDs(lambdaSeries, GREEN, 1.7) ] },
  options: commonOpts({ left: 0, right: 20.5, top: 21.3, bottom: 21 }, { x: xAxisHidden(), y: yAxis(-1, 1, lamTicks, lamTickLabels) }),
  plugins: [decor({ yTicks: lamTicks, solid: lamSolidRef, dashFromArea: false, dashToArea: false,
    panel: '(b)', panelPos: [501, 45], title: '\u03BB', titlePos: [32, 88] })]
});
pin(chB, { right: 545.5, top: 21.3, bottom: 234 });

// ---- Panel (c)
const chC = new Chart(document.getElementById('cc'), {
  type: 'scatter',
  data: { datasets: [ lineDs(etaSeries, RED, 1.7) ] },
  options: commonOpts({ left: 0, right: 20.5, top: 21.3, bottom: 43.3 }, {
    x: { type: 'linear', min: 1, max: 20,
      afterBuildTicks: s => { s.ticks = xTicks.map(v => ({value: v})); },
      afterFit: s => { s.height = 80; },
      ticks: { autoSkip: false, maxRotation: 0, padding: 0, color: TXT, font: {family: FONT, size: 33},
        callback: (v, i) => xTickLabels[i] },
      grid: { display: true, drawOnChartArea: false, drawTicks: true, tickLength: 28, color: CLEAR, tickColor: CLEAR },
      border: { display: false } },
    y: yAxis(0, 1, etaTicks, etaTickLabels)
  }),
  plugins: [decor({ yTicks: etaTicks, solid: etaSolidRef, dotted: etaDottedRef, dashFromArea: false, dashToArea: true, xBottom: true,
    panel: '(c)', panelPos: [501, 46], title: '\u03B7', titlePos: [20, 59], xTitle: true, xTitlePos: [318, 334] })]
});
pin(chC, { right: 545.5, top: 21.3, bottom: 234.7 });
</script>
</body></html>
